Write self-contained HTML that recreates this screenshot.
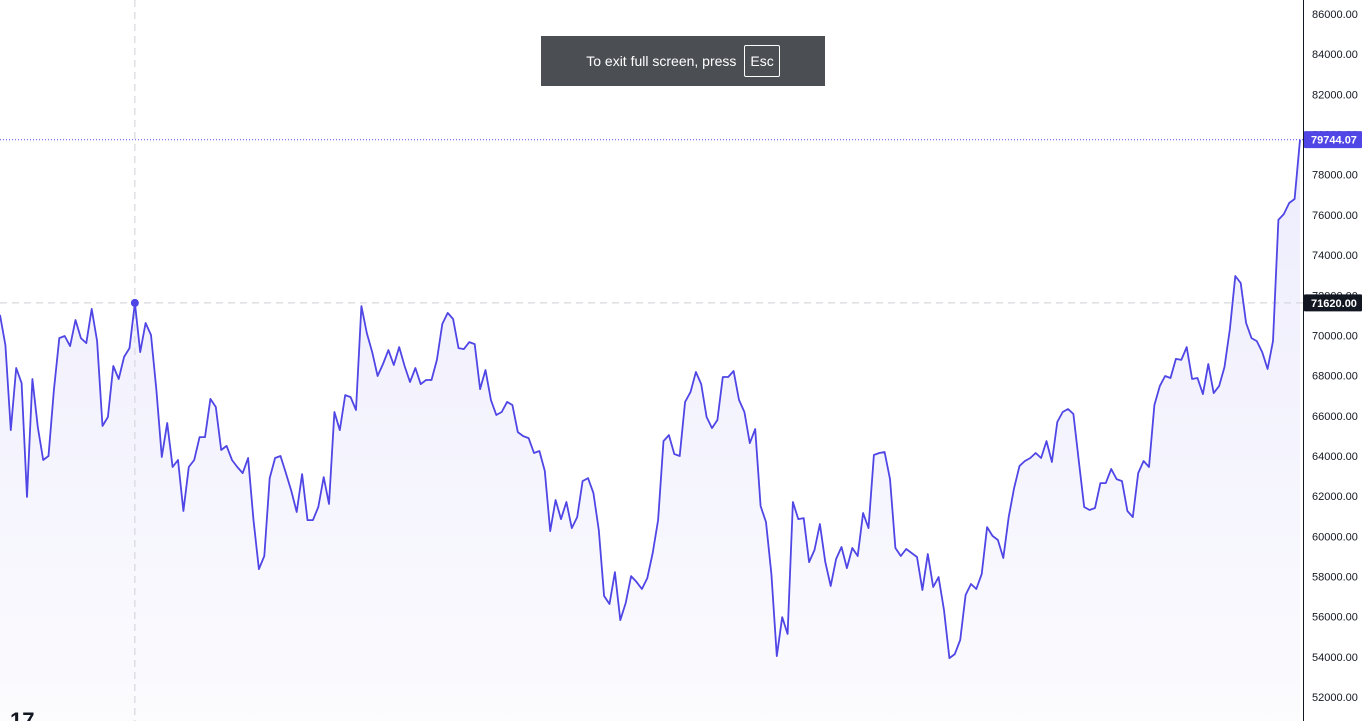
<!DOCTYPE html>
<html><head><meta charset="utf-8"><style>
html,body{margin:0;padding:0;width:1365px;height:721px;overflow:hidden;background:#fff;font-family:"Liberation Sans",sans-serif}
#chart{position:absolute;left:0;top:0}
#toast{position:absolute;left:541px;top:36px;width:284px;height:50px;background:#4b4e53;color:#fff;font-size:14px;display:flex;align-items:center;justify-content:center}
#esc{display:inline-block;border:1px solid #fff;border-radius:2px;padding:0 5px;height:30px;line-height:30px;margin-left:8px;font-size:14px}
</style></head><body>
<svg id="chart" width="1365" height="721"></svg>
<div id="toast">To exit full screen, press<span id="esc">Esc</span></div>
<script>
const prices = [71020,69520,65290,68380,67630,61960,67830,65440,63800,64000,67280,69870,69970,69470,70770,69870,69620,71320,69720,65490,65940,68480,67830,68930,69370,71620,69170,70620,70020,67280,63950,65640,63450,63800,61260,63450,63800,64940,64940,66840,66440,64300,64500,63800,63450,63150,63900,60810,58370,59020,62900,63900,64000,63150,62260,61210,63100,60810,60810,61460,62950,61610,66190,65290,
67030,66930,66290,71460,70120,69170,67980,68580,69270,68530,69420,68480,67680,68380,67580,67780,67780,68780,70570,71120,70820,69370,69320,69670,69570,67330,68280,66790,66040,66190,66690,66540,65190,64990,64890,64150,64250,63250,60260,61810,60860,61710,60410,60960,62750,62900,62160,60310,57030,56630,58220,55830,56680,58020,57730,57380,57920,59170,60810,64740,65040,
64100,64000,66690,67180,68180,67580,65940,65390,65790,67930,67930,68230,66790,66190,64640,65340,61510,60710,58120,54040,55980,55140,61710,60860,60910,58720,59320,60610,58720,57530,58870,59470,58420,59420,59020,61160,60410,64050,64150,64200,62850,59420,59020,59370,59170,58970,57330,59120,57480,57970,56330,53940,54140,54840,57080,57630,57380,58120,60460,60020,
59820,58920,60960,62400,63500,63750,63900,64150,63900,64740,63700,65690,66190,66340,66090,63750,61460,61310,61410,62650,62650,63350,62850,62750,61260,60960,63150,63750,63450,66540,67480,67980,67880,68830,68780,69420,67830,67880,67080,68580,67130,67480,68430,70320,72960,72610,70620,69870,69720,69170,68330,69720,75750,76040,76590,76790,79744.07];
const yTicks = [86000,84000,82000,80000,78000,76000,74000,72000,70000,68000,66000,64000,62000,60000,58000,56000,54000,52000];
const lastPrice = 79744.07;
const crossPrice = 71620;
const crossIndex = 25;

const NS="http://www.w3.org/2000/svg";
const svg=document.getElementById('chart');
const plotRight=1300, axisX=1303;
function yScale(v){return 14+(86000-v)/2000*40.18;}
function xScale(i){return i*plotRight/(prices.length-1);}
function mk(tag,attrs,parent){const e=document.createElementNS(NS,tag);for(const k in attrs)e.setAttribute(k,attrs[k]);(parent||svg).appendChild(e);return e;}

const defs=mk('defs',{});
const grad=mk('linearGradient',{id:'fillg',x1:0,y1:0,x2:0,y2:1},defs);
mk('stop',{offset:'0','stop-color':'#5046e5','stop-opacity':'0.1'},grad);
mk('stop',{offset:'1','stop-color':'#5046e5','stop-opacity':'0.02'},grad);

let d='';
prices.forEach((v,i)=>{d+=(i?'L':'M')+xScale(i).toFixed(1)+' '+yScale(v).toFixed(1);});
const area=mk('path',{d:d+'L'+xScale(prices.length-1)+' 721L0 721Z',fill:'url(#fillg)'});



const cy=yScale(crossPrice), cx=xScale(crossIndex);
const ch=mk('line',{x1:0,x2:axisX,y1:cy,y2:cy,stroke:'#d6d8de','stroke-width':1.2,'stroke-dasharray':'7 5'});


const cv=mk('line',{x1:cx,x2:cx,y1:0,y2:721,stroke:'#d6d8de','stroke-width':1.2,'stroke-dasharray':'7 5'});



const ly=yScale(lastPrice);
const ll=mk('line',{x1:0,x2:axisX,y1:ly,y2:ly,stroke:'#6a5ff2','stroke-width':1.2,'stroke-dasharray':'1 2'});



const line=mk('path',{d:d,fill:'none',stroke:'#4f46e5','stroke-width':1.8,'stroke-linejoin':'round'});



const dot=mk('circle',{cx:cx,cy:cy,r:4,fill:'#4f46e5'});



const ax=mk('line',{x1:axisX+0.5,x2:axisX+0.5,y1:0,y2:721,stroke:'#131722','stroke-width':1});



yTicks.forEach(t=>{
  const tx=mk('text',{x:1312,y:yScale(t)+4,'font-size':11,fill:'#131722','font-family':'Liberation Sans, sans-serif'});
  tx.textContent=t.toFixed(2);
  
  
});

function badge(v,bg,name){
  const y=yScale(v);
  const g=mk('g',{});
  
  
  mk('rect',{x:axisX+1,y:y-8.5,width:58,height:17,fill:bg,rx:1},g);
  const t=mk('text',{x:axisX+31,y:y+4,'font-size':11,fill:'#fff','text-anchor':'middle','font-family':'Liberation Sans, sans-serif','font-weight':'bold'},g);
  t.textContent=v.toFixed(2);
}
badge(lastPrice,'#5046e5','last-price-badge');
badge(crossPrice,'#131722','crosshair-price-badge');

const logo=mk('text',{x:10,y:728,'font-size':22,'font-weight':'bold',fill:'#131722','font-family':'Liberation Sans, sans-serif'});
logo.textContent='17';


</script>
</body></html>
